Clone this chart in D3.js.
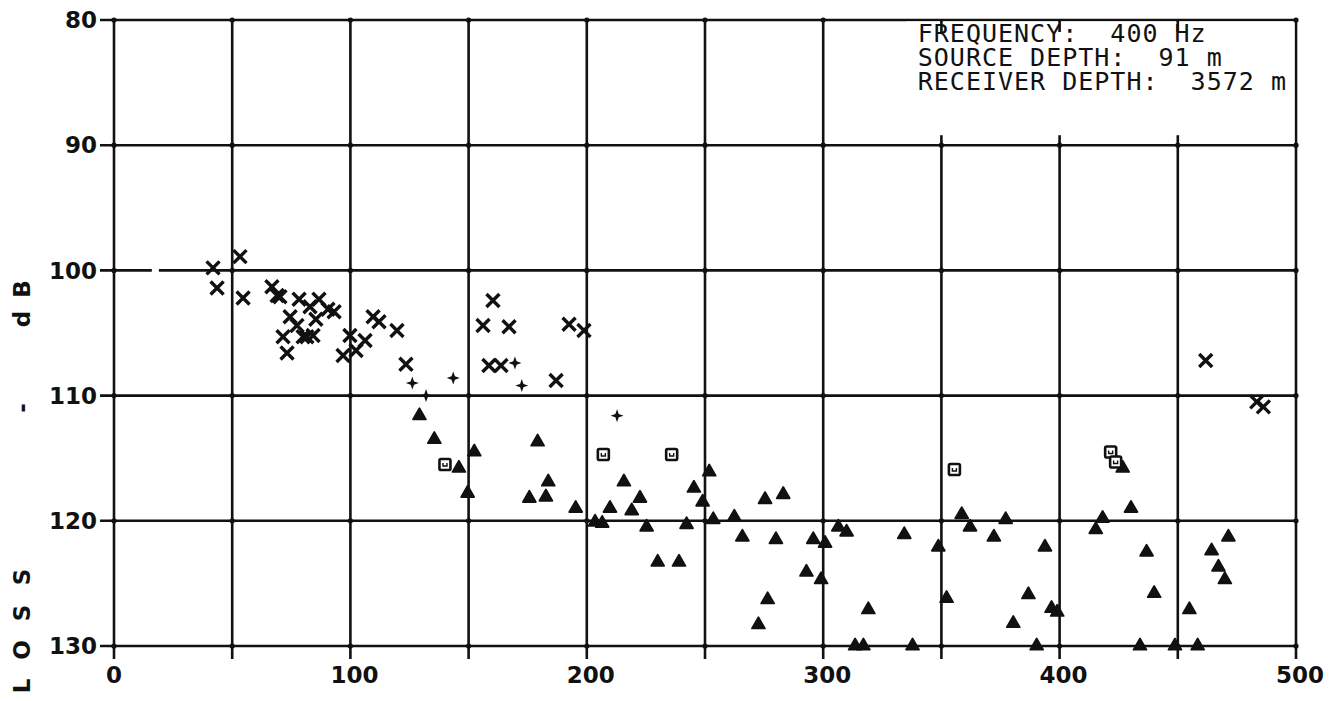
<!DOCTYPE html>
<html>
<head>
<meta charset="utf-8">
<script src="https://cdn.jsdelivr.net/npm/d3@7"></script>
<style>
  html, body { margin: 0; padding: 0; background: #fff; }
  svg { display: block; }
  .tick-label { font-family: "DejaVu Sans", sans-serif; font-weight: bold; font-size: 23px; fill: #111; }
  .axis-title { font-family: "DejaVu Sans", sans-serif; font-weight: bold; font-size: 23px; fill: #111; }
  .note { font-family: "DejaVu Sans Mono", monospace; font-size: 25px; letter-spacing: 1px; fill: #111; }
</style>
</head>
<body>
<script>
// Transmission loss vs. range, 400 Hz
const xTicks = [0, 100, 200, 300, 400, 500];
const yTicks = [80, 90, 100, 110, 120, 130];
const noteLines = ["FREQUENCY:  400 Hz", "SOURCE DEPTH:  91 m", "RECEIVER DEPTH:  3572 m"];

// crosses: [range, loss dB]
const crossPts = [
  [41.9, 99.8], [43.6, 101.4], [53.3, 98.9], [54.6, 102.2], [66.8, 101.3], [69.0, 102.0],
  [70.2, 102.1], [78.3, 102.3], [86.7, 102.3], [82.9, 102.9], [90.5, 103.1], [93.1, 103.3],
  [74.5, 103.7], [77.4, 104.4], [85.4, 103.9], [71.5, 105.3], [73.2, 106.6], [80.0, 105.3],
  [81.6, 105.3], [84.2, 105.2], [96.9, 106.8], [99.8, 105.2], [102.4, 106.4], [106.2, 105.6],
  [109.6, 103.7], [112.1, 104.1], [119.7, 104.8], [123.5, 107.5], [156.1, 104.4], [160.3, 102.4],
  [167.1, 104.5], [158.6, 107.6], [163.7, 107.6], [187.0, 108.8], [192.5, 104.3], [198.8, 104.8],
  [461.8, 107.2], [483.4, 110.5], [486.2, 110.9]
];

// small four-point stars
const starPts = [
  [126.2, 109.0], [132.0, 110.0], [143.5, 108.6], [169.6, 107.4], [172.5, 109.2], [212.8, 111.6]
];

// filled triangles
const trianglePts = [
  [129.2, 111.6], [135.5, 113.5], [152.4, 114.5], [145.9, 115.8], [149.6, 117.8],
  [179.2, 113.7], [183.7, 116.9], [175.7, 118.2], [182.7, 118.1], [195.3, 119.0],
  [203.5, 120.1], [206.5, 120.2], [215.7, 116.9], [209.8, 119.0], [219.0, 119.2],
  [222.5, 118.2], [225.3, 120.5], [230.0, 123.3], [239.0, 123.3], [242.2, 120.3],
  [245.3, 117.4], [249.0, 118.5], [251.8, 116.1], [253.5, 119.9], [262.4, 119.7],
  [265.8, 121.3], [275.4, 118.3], [283.1, 117.9], [280.0, 121.5], [276.5, 126.3],
  [272.6, 128.3], [292.9, 124.1], [295.8, 121.5], [299.1, 124.7], [300.8, 121.8],
  [306.4, 120.5], [309.9, 120.9], [319.1, 127.1], [313.5, 130.0], [317.0, 130.0],
  [334.3, 121.1], [337.8, 130.0], [348.7, 122.1], [352.2, 126.2], [358.6, 119.5],
  [362.1, 120.5], [372.2, 121.3], [377.2, 119.9], [380.4, 128.2], [386.8, 125.9],
  [390.3, 130.0], [393.8, 122.1], [396.6, 127.0], [399.0, 127.3], [415.3, 120.7],
  [418.2, 119.8], [426.7, 115.8], [430.2, 119.0], [434.0, 130.0], [436.8, 122.5],
  [440.0, 125.8], [448.8, 130.0], [454.9, 127.1], [458.4, 130.0], [464.3, 122.4],
  [467.2, 123.7], [469.9, 124.7], [471.4, 121.3]
];

// open squares
const squarePts = [
  [140.0, 115.5], [207.0, 114.7], [235.9, 114.7], [355.5, 115.9], [421.6, 114.5], [423.7, 115.3]
];

const W = 1335, H = 701;
const svg = d3.select("body").append("svg").attr("width", W).attr("height", H);

const x = d3.scaleLinear().domain([0, 500]).range([114, 1296]);
const y = d3.scaleLinear().domain([80, 130]).range([20, 646]);

const ink = "#111";
const gridX = d3.range(0, 501, 50);

// grid and frame
const grid = svg.append("g").attr("stroke", ink).attr("stroke-width", 2.6);
grid.selectAll("line.v").data(gridX).join("line")
  .attr("class", "v")
  .attr("x1", d => x(d)).attr("x2", d => x(d))
  .attr("y1", y(80)).attr("y2", y(130) + 13);
grid.selectAll("line.h").data(yTicks).join("line")
  .attr("class", "h")
  .attr("x1", x(0) - 14).attr("x2", x(500))
  .attr("y1", d => y(d)).attr("y2", d => y(d));

// short break in the 100 dB rule
svg.append("rect")
  .attr("x", x(16)).attr("y", y(100) - 3)
  .attr("width", x(19) - x(16)).attr("height", 6)
  .attr("fill", "#fff");

// note box over the upper-right grid cells
const boxL = x(335), boxT = y(80), boxB = y(90);
svg.append("rect")
  .attr("x", boxL).attr("y", boxT + 1.5)
  .attr("width", x(500) - boxL - 1.5).attr("height", boxB - boxT - 3)
  .attr("fill", "#fff");
const stub = svg.append("g").attr("stroke", ink).attr("stroke-width", 2.6);
gridX.filter(d => x(d) > boxL && d < 500).forEach(d => {
  stub.append("line").attr("x1", x(d)).attr("x2", x(d)).attr("y1", boxT).attr("y2", boxT + 12);
  stub.append("line").attr("x1", x(d)).attr("x2", x(d)).attr("y1", boxB - 10).attr("y2", boxB);
});

// intersection knots
const knots = [];
gridX.forEach(a => yTicks.forEach(b => knots.push([a, b])));
svg.append("g").selectAll("circle").data(knots.filter(([a, b]) => !(b === 80 && x(a) > boxL && a < 500)))
  .join("circle")
  .attr("cx", d => x(d[0])).attr("cy", d => y(d[1])).attr("r", 2.6).attr("fill", ink);

svg.append("g").selectAll("text").data(noteLines).join("text")
  .attr("class", "note")
  .attr("x", x(340))
  .attr("y", (d, i) => 42 + i * 24)
  .attr("xml:space", "preserve")
  .text(d => d);

// tick labels
svg.append("g").selectAll("text").data(yTicks).join("text")
  .attr("class", "tick-label")
  .attr("x", x(0) - 17).attr("y", d => y(d))
  .attr("dy", "0.36em").attr("text-anchor", "end")
  .text(d => d);
svg.append("g").selectAll("text").data(xTicks).join("text")
  .attr("class", "tick-label")
  .attr("x", d => x(d) + (d ? 4 : 0)).attr("y", y(130) + 37)
  .attr("text-anchor", "middle")
  .text(d => d);

// axis title, spaced letters reading upward
const titleParts = [["L", 686], ["O", 650], ["S", 613], ["S", 577], ["-", 408], ["d", 319], ["B", 289]];
svg.append("g").selectAll("text").data(titleParts).join("text")
  .attr("class", "axis-title")
  .attr("text-anchor", "middle")
  .attr("transform", d => `translate(30,${d[1]}) rotate(-90)`)
  .text(d => d[0]);

// markers
const marks = svg.append("g");
marks.selectAll("path.cross").data(crossPts).join("path")
  .attr("class", "cross")
  .attr("transform", d => `translate(${x(d[0])},${y(d[1])})`)
  .attr("d", "M-6.5,-6.5L6.5,6.5M-6.5,6.5L6.5,-6.5")
  .attr("stroke", ink).attr("stroke-width", 3.4).attr("fill", "none");

const starPath = "M0,-6.5L1.7,-1.7L6.5,0L1.7,1.7L0,6.5L-1.7,1.7L-6.5,0L-1.7,-1.7Z";
marks.selectAll("path.star").data(starPts).join("path")
  .attr("class", "star")
  .attr("transform", d => `translate(${x(d[0])},${y(d[1])})`)
  .attr("d", starPath).attr("fill", ink);

const tri = d3.symbol().type(d3.symbolTriangle).size(72);
marks.selectAll("path.tri").data(trianglePts).join("path")
  .attr("class", "tri")
  .attr("transform", d => `translate(${x(d[0])},${y(d[1])})`)
  .attr("d", tri())
  .attr("fill", ink).attr("stroke", ink).attr("stroke-width", 1.8).attr("stroke-linejoin", "round");

const sq = marks.selectAll("g.sq").data(squarePts).join("g")
  .attr("class", "sq")
  .attr("transform", d => `translate(${x(d[0])},${y(d[1])})`);
sq.append("rect").attr("x", -5.5).attr("y", -5.5).attr("width", 11).attr("height", 11).attr("rx", 1.5)
  .attr("fill", "#fff").attr("stroke", ink).attr("stroke-width", 2.6);
sq.append("path").attr("d", "M-2,-1.5L-2,1.5L2,1.5L2,-1.5")
  .attr("fill", "none").attr("stroke", ink).attr("stroke-width", 1.4);
</script>
</body>
</html>
